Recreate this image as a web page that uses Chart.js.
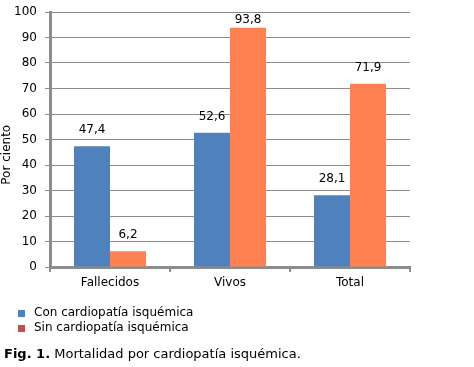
<!DOCTYPE html>
<html>
<head>
<meta charset="utf-8">
<script src="https://cdn.jsdelivr.net/npm/chart.js@4/dist/chart.umd.min.js"></script>
<style>
    body { margin: 0; background: #fff; }
    #wrap { position: relative; width: 474px; height: 367px; }
    #caption {
        position: absolute; left: 4px; top: 346px;
        font: 13px "DejaVu Sans", Verdana, sans-serif; color: #000;
        white-space: nowrap;
    }
</style>
</head>
<body>
<div id="wrap">
    <canvas id="chart" width="474" height="367"></canvas>
    <div id="caption"><b>Fig. 1.</b> Mortalidad por cardiopatía isquémica.</div>
</div>
<script>
// =========================
// DATA
// =========================

const categories = ["Fallecidos", "Vivos", "Total"];
const conCardio = [47.4, 52.6, 28.1];
const sinCardio = [6.2, 93.8, 71.9];
const seriesNames = ["Con cardiopatía isquémica", "Sin cardiopatía isquémica"];
const yTicks = [0, 10, 20, 30, 40, 50, 60, 70, 80, 90, 100];

const FONT = "'DejaVu Sans', Verdana, sans-serif";
const GRAY = "#8c8c8c";

// value labels above bars, comma as decimal mark
const valueLabels = {
    id: "valueLabels",
    afterDatasetsDraw(chart) {
        const ctx = chart.ctx;
        ctx.save();
        ctx.font = "12px " + FONT;
        ctx.fillStyle = "#000";
        ctx.textAlign = "center";
        ctx.textBaseline = "bottom";
        chart.data.datasets.forEach((ds, i) => {
            chart.getDatasetMeta(i).data.forEach((bar, j) => {
                const txt = String(ds.data[j]).replace(".", ",");
                // keep tall-bar labels inside the top of the plot
                const y = Math.max(bar.y - 10, chart.chartArea.top + 14);
                ctx.fillText(txt, bar.x, y);
            });
        });
        ctx.restore();
    }
};

// legend stacked vertically under the plot
const stackedLegend = {
    id: "stackedLegend",
    afterDraw(chart) {
        const ctx = chart.ctx;
        const markers = ["#4f81bd", "#c0504d"];
        ctx.save();
        ctx.font = "12px " + FONT;
        ctx.textBaseline = "middle";
        chart.data.datasets.forEach((ds, i) => {
            const y = 313 + i * 15;
            ctx.fillStyle = markers[i];
            ctx.fillRect(18, y - 3, 7, 7);
            ctx.fillStyle = "#000";
            ctx.fillText(ds.label, 34, y);
        });
        ctx.restore();
    }
};

new Chart(document.getElementById("chart"), {
    type: "bar",
    data: {
        labels: categories,
        datasets: [
            { label: seriesNames[0], data: conCardio, backgroundColor: "#4f81bd" },
            { label: seriesNames[1], data: sinCardio, backgroundColor: "#ff8050" }
        ]
    },
    options: {
        responsive: false,
        animation: false,
        events: [],
        layout: { padding: { left: 0, top: 12, right: 64, bottom: 70 } },
        datasets: { bar: { categoryPercentage: 0.6, barPercentage: 1.0 } },
        plugins: { legend: { display: false }, tooltip: { enabled: false } },
        scales: {
            x: {
                afterFit(s) { s.height = 30; },
                grid: {
                    offset: true, drawOnChartArea: false, drawTicks: true,
                    tickLength: 5, color: GRAY, lineWidth: 2
                },
                border: { color: GRAY, width: 3 },
                ticks: { color: "#000", font: { family: FONT, size: 12 }, padding: 4 }
            },
            y: {
                min: 0,
                max: 100,
                afterFit(s) { s.width = 50; s.paddingTop = 0; s.paddingBottom = 0; },
                afterBuildTicks(s) { s.ticks = yTicks.map(v => ({ value: v })); },
                grid: { color: GRAY, lineWidth: 1, drawTicks: true, tickLength: 5 },
                border: { color: GRAY, width: 3 },
                ticks: { color: "#000", font: { family: FONT, size: 12 }, padding: 8 },
                title: {
                    display: true, text: "Por ciento        ", color: "#000",
                    font: { family: FONT, size: 12 }, padding: 0
                }
            }
        }
    },
    plugins: [valueLabels, stackedLegend]
});
</script>
</body>
</html>
